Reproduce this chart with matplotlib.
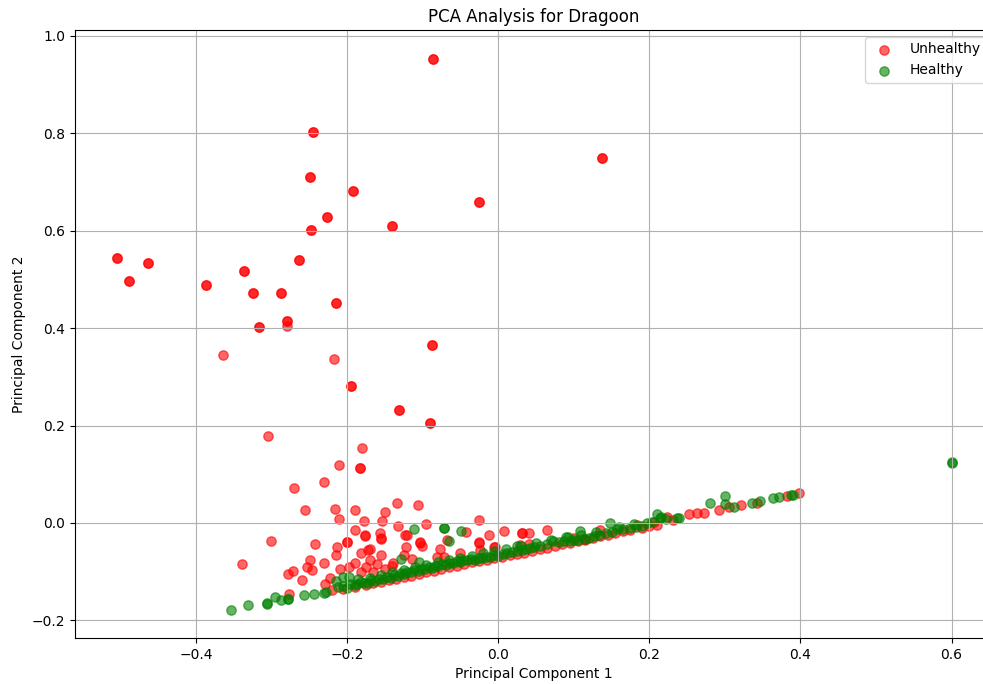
import numpy as np
import matplotlib
matplotlib.use("Agg")
from matplotlib import pyplot as plt

# unhealthy outliers (x, y, how many overlapping points)
unhealthy_out_x = [-0.086, -0.245, 0.138, -0.249, -0.192, -0.026, -0.227, -0.141, -0.248,
                   -0.505, -0.463, -0.488, -0.387, -0.337, -0.324, -0.287, -0.263, -0.215,
                   -0.316, -0.279, -0.279, -0.364, -0.217, -0.195, -0.088, -0.131, -0.090,
                   -0.304, -0.180, -0.211, -0.183]
unhealthy_out_y = [0.953, 0.802, 0.750, 0.710, 0.682, 0.658, 0.628, 0.610, 0.602,
                   0.544, 0.533, 0.497, 0.489, 0.517, 0.473, 0.471, 0.540, 0.451,
                   0.402, 0.415, 0.404, 0.344, 0.337, 0.281, 0.365, 0.232, 0.206,
                   0.179, 0.154, 0.119, 0.113]
unhealthy_out_n = [2, 2, 2, 2, 2, 2, 2, 2, 2,
                   2, 2, 2, 2, 2, 2, 2, 2, 2,
                   2, 2, 1, 1, 1, 2, 2, 2, 2,
                   1, 1, 1, 2]

# unhealthy points near the band
unhealthy_x = [-0.230, -0.270, -0.256, -0.216, -0.189, -0.211, -0.177, -0.301, -0.190, -0.176,
               -0.242, -0.200, -0.200, -0.213, -0.214, -0.182, -0.172, -0.249, -0.253, -0.247,
               -0.231, -0.209, -0.197, -0.189, -0.339, -0.278, -0.272, -0.259, -0.223, -0.229,
               -0.182, -0.277, -0.134, -0.106, -0.150, -0.154, -0.026, -0.132, -0.095, 0.008,
               0.032, -0.176, -0.157, -0.155, -0.155, -0.121, -0.068, -0.042, -0.026, -0.026,
               -0.012, -0.004, -0.170, -0.122, -0.104, -0.101, -0.077, -0.155, -0.125, -0.170,
               -0.139, -0.114, -0.081, -0.072, -0.175, -0.160, -0.150, -0.140, -0.165, -0.123,
               -0.103, -0.050, -0.024, -0.006, 0.031, 0.041, 0.064, 0.135, 0.029, 0.041,
               0.100, 0.115,
               -0.220, -0.205, -0.190, -0.175, -0.165, -0.155, -0.145, -0.135, -0.125, -0.115,
               -0.105, -0.095, -0.085, -0.075, -0.065, -0.055, -0.045, -0.035, -0.025, -0.015,
               -0.005, 0.005, 0.015, 0.025, 0.034, 0.045, 0.055, 0.065, 0.075, 0.085,
               0.095, 0.105, 0.115, 0.125, 0.135, 0.145, 0.155, 0.165, 0.175, 0.184,
               0.190, 0.200, 0.206, 0.210, 0.223, 0.232, 0.253, 0.263, 0.272, 0.292,
               0.305, 0.321, 0.343, 0.382, 0.398]
unhealthy_y = [0.084, 0.072, 0.026, 0.029, 0.027, 0.008, 0.004, -0.037, -0.014, -0.026,
               -0.044, -0.039, -0.040, -0.050, -0.066, -0.061, -0.056, -0.075, -0.091, -0.097,
               -0.082, -0.094, -0.090, -0.083, -0.084, -0.105, -0.098, -0.117, -0.113, -0.125,
               -0.100, -0.145, 0.040, 0.036, 0.023, 0.004, 0.006, -0.007, -0.003, -0.016,
               -0.021, -0.025, -0.020, -0.031, -0.033, -0.025, -0.035, -0.019, -0.040, -0.041,
               -0.025, -0.050, -0.054, -0.050, -0.040, -0.048, -0.054, -0.066, -0.066, -0.076,
               -0.083, -0.074, -0.070, -0.070, -0.090, -0.085, -0.095, -0.088, -0.100, -0.025,
               -0.042, -0.062, -0.055, -0.050, -0.020, -0.021, -0.014, -0.015, -0.045, -0.044,
               -0.030, -0.033,
               -0.138, -0.135, -0.131, -0.127, -0.124, -0.121, -0.118, -0.115, -0.111, -0.108,
               -0.104, -0.101, -0.098, -0.094, -0.091, -0.088, -0.084, -0.081, -0.078, -0.075,
               -0.072, -0.069, -0.066, -0.063, -0.062, -0.057, -0.054, -0.051, -0.047, -0.044,
               -0.041, -0.037, -0.034, -0.031, -0.027, -0.024, -0.020, -0.017, -0.014, -0.004,
               -0.010, -0.007, 0.003, -0.004, 0.013, 0.006, 0.018, 0.020, 0.020, 0.027,
               0.032, 0.037, 0.042, 0.055, 0.061]

healthy_x = [-0.354, -0.331, -0.306, -0.306, -0.295, -0.287, -0.278, -0.278, -0.257, -0.244,
             -0.231, -0.228, -0.215, -0.205, -0.198, -0.212, -0.205, -0.200, -0.196, -0.190,
             -0.187, -0.182, -0.178, -0.172, -0.168, -0.163, -0.158, -0.152, -0.147, -0.142,
             -0.138, -0.133, -0.128, -0.124, -0.120, -0.115, -0.111, -0.106, -0.102, -0.097,
             -0.092, -0.088, -0.083, -0.079, -0.074, -0.069, -0.065, -0.060, -0.055, -0.050,
             -0.046, -0.041, -0.036, -0.031, -0.026, -0.021, -0.016, -0.011, -0.006, 0.000,
             0.006, 0.012, 0.018, 0.025, 0.025, 0.031, 0.037, 0.042, 0.048, 0.056,
             0.064, 0.073, 0.080, 0.087, 0.093, 0.095, 0.101, 0.106, 0.108, 0.114,
             0.120, 0.127, 0.134, 0.143, 0.148, 0.150, 0.157, 0.165, 0.175, 0.183,
             0.190, 0.197, 0.204, 0.210, 0.214, 0.215, 0.222, 0.237, 0.239, 0.280,
             0.300, 0.300, 0.312, 0.336, 0.346, 0.364, 0.371, 0.387, 0.390, 0.600,
             0.600, -0.111, -0.072, -0.072, -0.049, -0.065, -0.129, -0.105,
             -0.185, -0.170, -0.155, -0.140, -0.125, -0.110, -0.095, -0.080, -0.065, -0.050,
             -0.035, -0.020, -0.005, 0.010, 0.030, 0.050, 0.070, 0.090, 0.110, 0.130,
             0.160, 0.180]
healthy_y = [-0.179, -0.168, -0.166, -0.165, -0.152, -0.159, -0.156, -0.155, -0.147, -0.146,
             -0.143, -0.142, -0.119, -0.111, -0.111, -0.132, -0.130, -0.133, -0.125, -0.128,
             -0.126, -0.122, -0.124, -0.123, -0.118, -0.120, -0.114, -0.116, -0.110, -0.112,
             -0.106, -0.108, -0.103, -0.105, -0.100, -0.101, -0.097, -0.098, -0.094, -0.095,
             -0.091, -0.092, -0.088, -0.089, -0.085, -0.086, -0.082, -0.083, -0.079, -0.080,
             -0.076, -0.077, -0.074, -0.075, -0.071, -0.072, -0.069, -0.070, -0.066, -0.067,
             -0.064, -0.062, -0.060, -0.057, -0.048, -0.055, -0.053, -0.052, -0.050, -0.047,
             -0.043, -0.038, -0.040, -0.036, -0.028, -0.038, -0.034, -0.035, -0.016, -0.032,
             -0.030, -0.027, -0.024, -0.021, -0.001, -0.019, -0.013, -0.013, -0.011, -0.008,
             -0.006, -0.001, 0.002, 0.018, 0.010, 0.013, 0.008, 0.010, 0.010, 0.040,
             0.055, 0.038, 0.033, 0.040, 0.045, 0.051, 0.054, 0.057, 0.058, 0.124,
             0.125, -0.012, -0.010, -0.011, -0.017, -0.036, -0.073, -0.080,
             -0.115, -0.112, -0.107, -0.100, -0.096, -0.091, -0.086, -0.081, -0.077, -0.072,
             -0.067, -0.062, -0.058, -0.054, -0.047, -0.041, -0.034, -0.029, -0.024, -0.018,
             -0.008, -0.003]

ux = np.concatenate([np.repeat(unhealthy_out_x, unhealthy_out_n), unhealthy_x])
uy = np.concatenate([np.repeat(unhealthy_out_y, unhealthy_out_n), unhealthy_y])

fig = plt.figure(figsize=(9.83, 6.84), dpi=100)
ax = fig.add_axes([0.0763, 0.0673, 0.934, 0.889])

ax.scatter(ux, uy, color='red', alpha=0.6, s=45, label='Unhealthy')
ax.scatter(healthy_x, healthy_y, color='green', alpha=0.6, s=45, label='Healthy')

ax.set_xlim(-0.56, 0.655)
ax.set_ylim(-0.236, 1.012)
ax.set_title('PCA Analysis for Dragoon')
ax.set_xlabel('Principal Component 1')
ax.set_ylabel('Principal Component 2')
ax.legend(loc='upper right')
ax.grid(True)

fig.savefig('out.png', dpi=100)
